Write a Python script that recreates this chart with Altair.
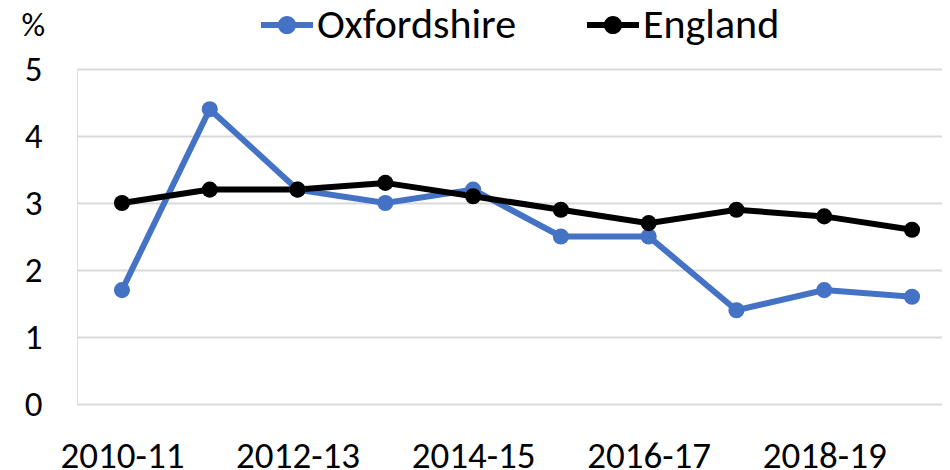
import altair as alt
import pandas as pd

years = ["2010-11", "2011-12", "2012-13", "2013-14", "2014-15",
         "2015-16", "2016-17", "2017-18", "2018-19", "2019-20"]
oxfordshire = [1.7, 4.4, 3.2, 3.0, 3.2, 2.5, 2.5, 1.4, 1.7, 1.6]
england = [3.0, 3.2, 3.2, 3.3, 3.1, 2.9, 2.7, 2.9, 2.8, 2.6]
series = ["Oxfordshire", "England"]
colors = ["#4472C4", "#000000"]
shown_labels = years[::2]

rows = []
for name, vals in zip(series, [oxfordshire, england]):
    for i, (y, v) in enumerate(zip(years, vals)):
        rows.append({"year": y, "value": v, "series": name, "order": i})
df = pd.DataFrame(rows)

FONT = "Carlito, Calibri, Lato, sans-serif"

x_enc = alt.X("year:O", sort=years,
              scale=alt.Scale(type="point", padding=0.427, align=0.6),
              axis=alt.Axis(values=shown_labels, title=None, labelAngle=0,
                            ticks=False, domain=False, grid=False,
                            labelFontSize=37, labelPadding=34,
                            labelColor="#000000", labelFont=FONT))
y_enc = alt.Y("value:Q", scale=alt.Scale(domain=[0, 5]),
              axis=alt.Axis(values=[0, 1, 2, 3, 4, 5], title="%", titleAngle=0,
                            titleX=-56, titleY=-60, titleAlign="left",
                            titleBaseline="top", titleFontSize=33,
                            titleFontWeight="normal", titleFont=FONT,
                            titleColor="#000000",
                            ticks=False, domain=False, grid=True,
                            gridColor="#d9d9d9", gridWidth=2,
                            labelFontSize=35, labelPadding=35,
                            labelColor="#000000", labelFont=FONT))
color_scale = alt.Scale(domain=series, range=colors)

symbol_path = ("M-1,-0.115H1V0.115H-1Z "
               "M0.35,0A0.35,0.35,0,1,1,-0.35,0A0.35,0.35,0,1,1,0.35,0Z")

legend = alt.Legend(title=None, orient="none", direction="horizontal",
                    legendX=184, legendY=-70,
                    symbolType=symbol_path, symbolSize=2704,
                    symbolStrokeWidth=0, symbolOpacity=1,
                    labelFontSize=42, labelFont=FONT, labelLimit=0,
                    labelColor="#000000", labelOffset=4,
                    columnPadding=70)

color_enc = alt.Color("series:N", scale=color_scale, sort=series, legend=legend)

lines = alt.Chart(df).mark_line(strokeWidth=6).encode(
    x=x_enc, y=y_enc, color=color_enc, order="order:Q",
)

points = alt.Chart(df).mark_circle(size=260, opacity=1).encode(
    x=x_enc, y=y_enc, color=color_enc,
)

chart = alt.layer(lines, points).properties(
    width=865, height=335,
    autosize=alt.AutoSizeParams(type="none"),
    padding={"left": 69, "top": 61, "right": 0, "bottom": 66},
).configure_view(stroke=None).configure(background="white")

chart.save("out.html", embed_options={"renderer": "svg", "actions": False})
